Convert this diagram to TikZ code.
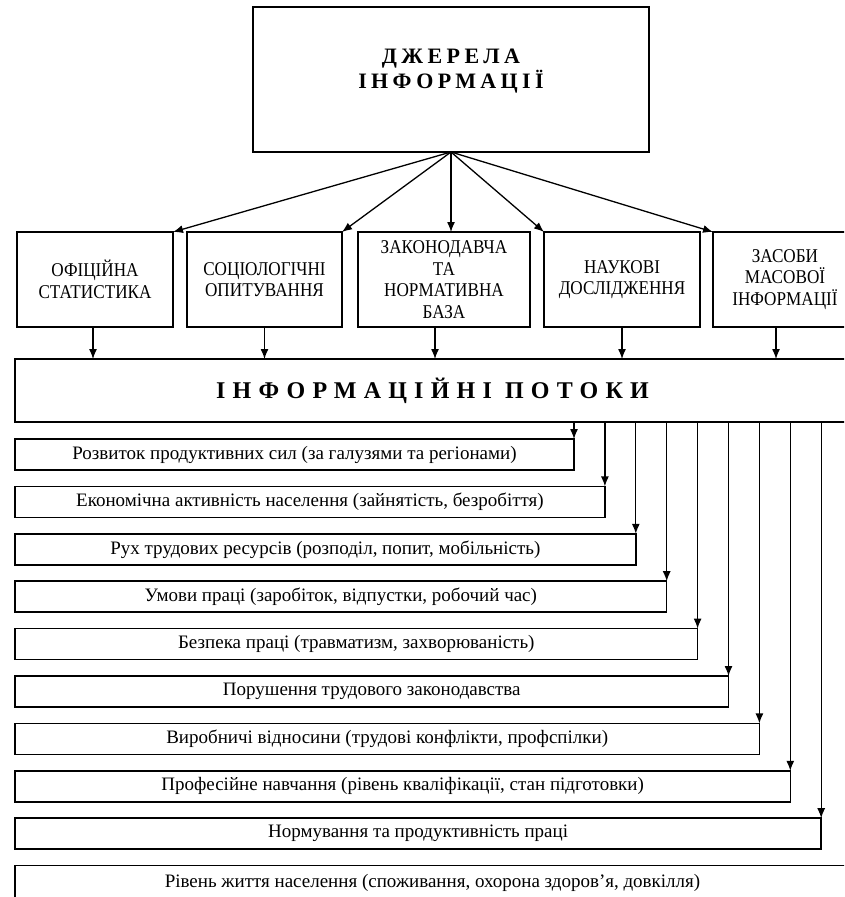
\documentclass[tikz,border=0pt]{standalone}
\usepackage{fontspec}
\setmainfont{Liberation Serif}
\newfontfamily\capfont[FakeStretch=0.88]{Liberation Serif}
\usetikzlibrary{positioning,calc,arrows.meta}

\begin{document}
\begin{tikzpicture}[x=1pt,y=-1pt,node distance=14pt,
  font=\fontsize{19}{21}\selectfont,
  box/.style={draw,line width=1.5pt,inner sep=0pt,outer sep=0pt,align=center},
  kind/.style={box,minimum height=95pt,font=\capfont\fontsize{19.5}{21.5}\selectfont},
  item/.style={box,minimum height=31pt},
  arr/.style={-{Latex[length=10pt,width=8pt]},line width=1.3pt}]
    \useasboundingbox (0,0) rectangle (844,897);
    \clip (0,0) rectangle (844,897);
    %
    \node[box,anchor=north west,minimum width=396pt,minimum height=145pt,
      label={[align=center,yshift=8pt,
        font=\bfseries\addfontfeature{LetterSpace=20}\fontsize{22}{25}\selectfont]center:ДЖЕРЕЛА\\ІНФОРМАЦІЇ}]
      (src) at (253,7) {};
    %
    \node[kind,anchor=north west,minimum width=156pt] (stat) at (17,232) {ОФІЦІЙНА\\СТАТИСТИКА};
    \node[kind,right=14pt of stat,minimum width=155pt] (soc) {СОЦІОЛОГІЧНІ\\ОПИТУВАННЯ};
    \node[kind,right=16pt of soc,minimum width=172pt] (law) {ЗАКОНОДАВЧА\\ТА\\НОРМАТИВНА\\БАЗА};
    \node[kind,right=14pt of law,minimum width=156pt] (sci) {НАУКОВІ\\ДОСЛІДЖЕННЯ};
    \node[kind,right=13pt of sci,minimum width=144pt] (mass) {ЗАСОБИ\\МАСОВОЇ\\ІНФОРМАЦІЇ};
    %
    \node[box,anchor=north west,minimum width=835pt,minimum height=63pt,
      font=\bfseries\addfontfeature{LetterSpace=30}\fontsize{24}{26}\selectfont]
      (flow) at (15,359) {ІНФОРМАЦІЙНІ ПОТОКИ};
    %
    \node[item,anchor=north west,minimum width=559pt] (it1) at (15,439) {Розвиток продуктивних сил (за галузями та регіонами)};
    \node[item,below=16.4pt of it1.south west,anchor=north west,minimum width=589.9pt] (it2) {Економічна активність населення (зайнятість, безробіття)};
    \node[item,below=16.4pt of it2.south west,anchor=north west,minimum width=620.8pt] (it3) {Рух трудових ресурсів (розподіл, попит, мобільність)};
    \node[item,below=16.4pt of it3.south west,anchor=north west,minimum width=651.7pt] (it4) {Умови праці (заробіток, відпустки, робочий час)};
    \node[item,below=16.4pt of it4.south west,anchor=north west,minimum width=682.6pt] (it5) {Безпека праці (травматизм, захворюваність)};
    \node[item,below=16.4pt of it5.south west,anchor=north west,minimum width=713.5pt] (it6) {Порушення трудового законодавства};
    \node[item,below=16.4pt of it6.south west,anchor=north west,minimum width=744.4pt] (it7) {Виробничі відносини (трудові конфлікти, профспілки)};
    \node[item,below=16.4pt of it7.south west,anchor=north west,minimum width=775.3pt] (it8) {Професійне навчання (рівень кваліфікації, стан підготовки)};
    \node[item,below=16.4pt of it8.south west,anchor=north west,minimum width=806.2pt] (it9) {Нормування та продуктивність праці};
    \node[item,below=16.4pt of it9.south west,anchor=north west,minimum width=835pt,minimum height=35pt] (it10) {Рівень життя населення (споживання, охорона здоров’я, довкілля)};
    %
    \draw[arr] (src.south) -- (stat.north east);
    \draw[arr] (src.south) -- (soc.north east);
    \draw[arr] (src.south) -- (src.south |- law.north);
    \draw[arr] (src.south) -- (sci.north west);
    \draw[arr] (src.south) -- (mass.north west);
    %
    \draw[arr] ([xshift=-2pt]stat.south) -- ([xshift=-2pt]stat.south |- flow.north);
    \draw[arr] (soc.south) -- (soc.south |- flow.north);
    \draw[arr] ([xshift=-9pt]law.south) -- ([xshift=-9pt]law.south |- flow.north);
    \draw[arr] (sci.south) -- (sci.south |- flow.north);
    \draw[arr] ([xshift=-9pt]mass.south) -- ([xshift=-9pt]mass.south |- flow.north);
    %
    \draw[arr] (flow.south -| it1.north east) -- (it1.north east);
    \draw[arr] (flow.south -| it2.north east) -- (it2.north east);
    \draw[arr] (flow.south -| it3.north east) -- (it3.north east);
    \draw[arr] (flow.south -| it4.north east) -- (it4.north east);
    \draw[arr] (flow.south -| it5.north east) -- (it5.north east);
    \draw[arr] (flow.south -| it6.north east) -- (it6.north east);
    \draw[arr] (flow.south -| it7.north east) -- (it7.north east);
    \draw[arr] (flow.south -| it8.north east) -- (it8.north east);
    \draw[arr] (flow.south -| it9.north east) -- (it9.north east);
\end{tikzpicture}
\end{document}
